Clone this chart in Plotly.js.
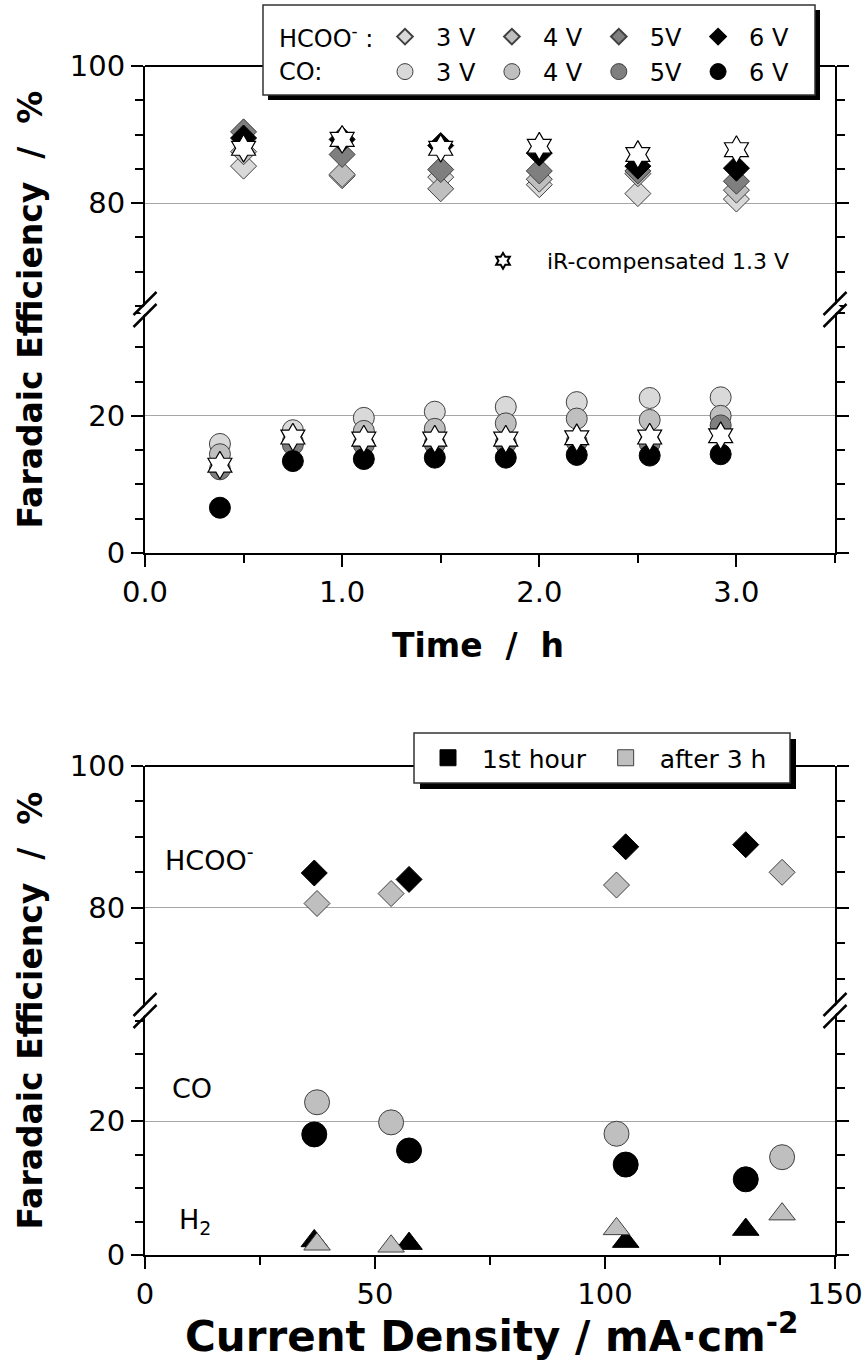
<!DOCTYPE html>
<html><head><meta charset="utf-8">
<script src="https://cdn.plot.ly/plotly-3.0.1.min.js"></script>
<style>html,body{margin:0;padding:0;background:#fff}</style>
</head><body><div id="chart" style="width:866px;height:1364px"></div>
<script>
// ---------- top panel: Faradaic efficiency vs time ----------
const timeHCOO = [0.5, 1.0, 1.5, 2.0, 2.5, 3.0];
const hcoo3V = [85.4, 84.0, 83.8, 82.7, 81.4, 80.6];
const hcoo4V = [87.5, 84.2, 82.1, 83.5, 84.3, 81.9];
const hcoo5V = [90.4, 87.1, 84.9, 84.7, 84.7, 83.2];
const hcoo6V = [89.5, 89.3, 88.4, 87.3, 85.4, 85.1];
const hcooIR = [88.0, 89.3, 88.0, 88.3, 87.1, 87.8];

const timeCO = [0.38, 0.75, 1.11, 1.47, 1.83, 2.19, 2.56, 2.92];
const co3V = [15.9, 17.9, 19.7, 20.6, 21.3, 22.0, 22.6, 22.7];
const co4V = [14.4, 16.2, 17.8, 18.1, 18.9, 19.6, 19.4, 20.0];
const co5V = [12.2, 15.8, 15.8, 15.9, 16.0, 16.2, 16.0, 18.6];
const co6V = [6.6, 13.4, 13.7, 13.9, 13.9, 14.3, 14.2, 14.4];
const coIR = [12.8, 16.9, 16.6, 16.6, 16.6, 16.8, 16.9, 17.1];

const voltLabels = ['3 V', '4 V', '5V', '6 V'];

// ---------- bottom panel: Faradaic efficiency vs current density ----------
const cdFirst = [36.8, 57.4, 104.5, 130.6];
const cdAfter = [37.4, 53.5, 102.5, 138.5];
const hcooFirst = [84.9, 84.0, 88.6, 88.9];
const hcooAfter = [80.6, 82.0, 83.2, 85.0];
const coFirst = [18.0, 15.6, 13.5, 11.3];
const coAfter = [22.8, 19.8, 18.1, 14.6];
const h2First = [2.1, 1.7, 2.0, 3.8];
const h2After = [1.6, 1.3, 3.9, 6.1];
const groupLabels = ['1st hour', 'after 3 h'];

// ---------- geometry ----------
const W = 866, H = 1364, L = 145, R = 31, T = 66, B = 109;
const PW = W - L - R, PH = H - T - B;
const px2x = p => (p - L) / PW;
const px2y = p => (H - B - p) / PH;
const topTop = px2y(66), topBot = px2y(553), topMid = (topTop + topBot) / 2;
const botTop = px2y(766), botBot = 0, botMid = (botTop + botBot) / 2;

const FONT = 'DejaVu Sans, Verdana, sans-serif';
const shade = ['#D9D9D9', '#BFBFBF', '#7F7F7F', '#000000'];
const edge = '#404040';

const traces = [];
const hcooSets = [hcoo3V, hcoo4V, hcoo5V, hcoo6V];
const coSets = [co3V, co4V, co5V, co6V];
hcooSets.forEach((ys, i) => traces.push({
  type: 'scatter', mode: 'markers', x: timeHCOO, y: ys, xaxis: 'x', yaxis: 'y2',
  name: voltLabels[i], legend: 'legend',
  marker: {symbol: 'diamond', size: 20, color: shade[i], line: {color: i === 3 ? '#000' : edge, width: 1}}
}));
coSets.forEach((ys, i) => traces.push({
  type: 'scatter', mode: 'markers', x: timeCO, y: ys, xaxis: 'x', yaxis: 'y',
  name: voltLabels[i], legend: 'legend2',
  marker: {symbol: 'circle', size: 21, color: shade[i], line: {color: i === 3 ? '#000' : edge, width: 1}}
}));
traces.push({
  type: 'scatter', mode: 'markers', x: timeHCOO, y: hcooIR, xaxis: 'x', yaxis: 'y2',
  name: 'iR-compensated 1.3 V', legend: 'legend3',
  marker: {symbol: 'hexagram', size: 21, color: '#FFFFFF', line: {color: '#000', width: 1.2}}
});
traces.push({
  type: 'scatter', mode: 'markers', x: timeCO, y: coIR, xaxis: 'x', yaxis: 'y', showlegend: false,
  marker: {symbol: 'hexagram', size: 21, color: '#FFFFFF', line: {color: '#000', width: 1.2}}
});

// bottom panel
const grp = [
  {cd: cdFirst, hc: hcooFirst, co: coFirst, h2: h2First, col: '#000000', line: '#000000'},
  {cd: cdAfter, hc: hcooAfter, co: coAfter, h2: h2After, col: '#BFBFBF', line: edge}
];
grp.forEach((g, i) => {
  traces.push({type: 'scatter', mode: 'markers', x: g.cd, y: g.hc, xaxis: 'x2', yaxis: 'y4', showlegend: false,
    marker: {symbol: 'diamond', size: 20, color: g.col, line: {color: g.line, width: 1}}});
  traces.push({type: 'scatter', mode: 'markers', x: g.cd, y: g.co, xaxis: 'x2', yaxis: 'y3', showlegend: false,
    marker: {symbol: 'circle', size: 25, color: g.col, line: {color: g.line, width: 1}}});
  traces.push({type: 'scatter', mode: 'markers', x: g.cd, y: g.h2, xaxis: 'x2', yaxis: 'y3', showlegend: false,
    marker: {symbol: 'triangle-up', size: 23, color: g.col, line: {color: g.line, width: 1}}});
  // legend key (square)
  traces.push({type: 'scatter', mode: 'markers', x: [null], y: [null], xaxis: 'x2', yaxis: 'y3',
    name: groupLabels[i], legend: 'legend4',
    marker: {symbol: 'square', size: 16, color: g.col, line: {color: g.line, width: 1}}});
});

const tickFont = {family: FONT, size: 29, color: '#000'};
function yax(range, dom, anchor) {
  return {
    domain: dom, range: range, anchor: anchor, dtick: 20, tick0: 0,
    ticks: 'outside', ticklen: 12, tickwidth: 2, tickcolor: '#000',
    minor: {dtick: 5, ticks: 'outside', ticklen: 8, tickwidth: 2, tickcolor: '#000', showgrid: false},
    showline: true, linewidth: 2, linecolor: '#000', mirror: 'ticks',
    showgrid: true, gridcolor: '#A6A6A6', gridwidth: 1, zeroline: false,
    tickfont: tickFont, fixedrange: true
  };
}
function xax(range, dtick, mdtick, anchor, fmt) {
  return {
    range: range, anchor: anchor, dtick: dtick, tick0: 0, tickformat: fmt,
    ticks: 'outside', ticklen: 12, tickwidth: 2, tickcolor: '#000',
    minor: {dtick: mdtick, ticks: 'outside', ticklen: 8, tickwidth: 2, tickcolor: '#000', showgrid: false},
    showline: true, linewidth: 2, linecolor: '#000', showgrid: false, zeroline: false,
    tickfont: tickFont, fixedrange: true
  };
}

const shapes = [];
// top borders
[topTop, botTop].forEach(y => shapes.push({type: 'line', xref: 'paper', yref: 'paper', x0: 0, x1: 1, y0: y, y1: y,
  line: {color: '#000', width: 2}, layer: 'above'}));
// break marks
[[0, topMid], [1, topMid], [0, botMid], [1, botMid]].forEach(([xp, yp]) => {
  shapes.push({type: 'line', xref: 'paper', yref: 'paper', xsizemode: 'pixel', ysizemode: 'pixel',
    xanchor: xp, yanchor: yp, x0: -4, x1: 4, y0: -4, y1: 4, line: {color: '#fff', width: 6}, layer: 'above'});
  [-6, 6].forEach(o => shapes.push({type: 'line', xref: 'paper', yref: 'paper', xsizemode: 'pixel', ysizemode: 'pixel',
    xanchor: xp, yanchor: yp, x0: -11.5, x1: 11.5, y0: o - 11.5, y1: o + 11.5,
    line: {color: '#000', width: 2.5}, layer: 'above'}));
});
// legend boxes with drop shadow
function box(x0, y0, x1, y1, off) {
  shapes.push({type: 'rect', xref: 'paper', yref: 'paper', x0: px2x(x0 + off), x1: px2x(x1 + off),
    y0: px2y(y1 + off), y1: px2y(y0 + off), fillcolor: '#000', line: {width: 0}, layer: 'above'});
  shapes.push({type: 'rect', xref: 'paper', yref: 'paper', x0: px2x(x0), x1: px2x(x1),
    y0: px2y(y1), y1: px2y(y0), fillcolor: '#fff', line: {color: '#333', width: 1.5}, layer: 'above'});
}
box(263, 5, 815, 95, 5);
box(414, 733, 790, 783, 6);

const annFont = {family: FONT, size: 24, color: '#000'};
const titleFont = {family: FONT, size: 33, color: '#000', weight: 'bold'};
const nb = '\u00a0';
const annotations = [
  {xref: 'paper', yref: 'paper', x: px2x(277), y: px2y(37), xanchor: 'left', yanchor: 'middle', showarrow: false,
    text: 'HCOO<sup>-</sup> :', font: annFont},
  {xref: 'paper', yref: 'paper', x: px2x(277), y: px2y(72), xanchor: 'left', yanchor: 'middle', showarrow: false,
    text: 'CO:', font: annFont},
  {xref: 'x2', yref: 'y4', x: 4, y: 87, xanchor: 'left', yanchor: 'middle', showarrow: false,
    text: 'HCOO<sup>-</sup>', font: {family: FONT, size: 27, color: '#000'}},
  {xref: 'x2', yref: 'y3', x: 5.5, y: 24.8, xanchor: 'left', yanchor: 'middle', showarrow: false,
    text: 'CO', font: {family: FONT, size: 27, color: '#000'}},
  {xref: 'x2', yref: 'y3', x: 7, y: 5, xanchor: 'left', yanchor: 'middle', showarrow: false,
    text: 'H<sub>2</sub>', font: {family: FONT, size: 27, color: '#000'}},
  {xref: 'paper', yref: 'paper', x: px2x(30), y: topMid, textangle: -90, showarrow: false,
    xanchor: 'center', yanchor: 'middle', text: 'Faradaic Efficiency' + nb + nb + '/' + nb + nb + '%', font: titleFont},
  {xref: 'paper', yref: 'paper', x: px2x(30), y: botMid, textangle: -90, showarrow: false,
    xanchor: 'center', yanchor: 'middle', text: 'Faradaic Efficiency' + nb + nb + '/' + nb + nb + '%', font: titleFont},
  {xref: 'paper', yref: 'paper', x: px2x(478), y: px2y(645), showarrow: false,
    xanchor: 'center', yanchor: 'middle', text: 'Time' + nb + nb + '/' + nb + nb + 'h', font: titleFont},
  {xref: 'paper', yref: 'paper', x: px2x(491), y: px2y(1333), showarrow: false,
    xanchor: 'center', yanchor: 'middle', text: 'Current Density / mA·cm<sup>-2</sup>',
    font: {family: FONT, size: 42, color: '#000', weight: 'bold'}}
];

const clearBg = 'rgba(0,0,0,0)';
const layout = {
  width: W, height: H, margin: {l: L, r: R, t: T, b: B},
  paper_bgcolor: '#fff', plot_bgcolor: '#fff',
  font: {family: FONT, color: '#000'},
  xaxis: xax([0, 3.5], 1, 0.5, 'y', '.1f'),
  xaxis2: xax([0, 150], 50, 25, 'y3', ''),
  yaxis: yax([0, 35.5], [topBot, topMid], 'x'),
  yaxis2: yax([64.5, 100], [topMid, topTop], 'x'),
  yaxis3: yax([0, 36.5], [botBot, botMid], 'x2'),
  yaxis4: yax([65.5, 100], [botMid, botTop], 'x2'),
  legend: {x: px2x(374), xanchor: 'left', y: px2y(37), yanchor: 'middle', orientation: 'h',
    bgcolor: clearBg, borderwidth: 0, itemwidth: 52, itemsizing: 'constant', font: {family: FONT, size: 24}},
  legend2: {x: px2x(374), xanchor: 'left', y: px2y(72), yanchor: 'middle', orientation: 'h',
    bgcolor: clearBg, borderwidth: 0, itemwidth: 52, itemsizing: 'trace', font: {family: FONT, size: 24}},
  legend3: {x: px2x(459), xanchor: 'left', y: px2y(261), yanchor: 'middle', orientation: 'h',
    bgcolor: clearBg, borderwidth: 0, itemwidth: 78, itemsizing: 'constant', font: {family: FONT, size: 22}},
  legend4: {x: px2x(414), xanchor: 'left', y: px2y(758), yanchor: 'middle', orientation: 'h',
    bgcolor: clearBg, borderwidth: 0, itemwidth: 58, itemsizing: 'trace', font: {family: FONT, size: 25}},
  shapes: shapes,
  annotations: annotations,
  showlegend: true
};

Plotly.newPlot('chart', traces, layout, {staticPlot: true, displayModeBar: false});
</script></body></html>
